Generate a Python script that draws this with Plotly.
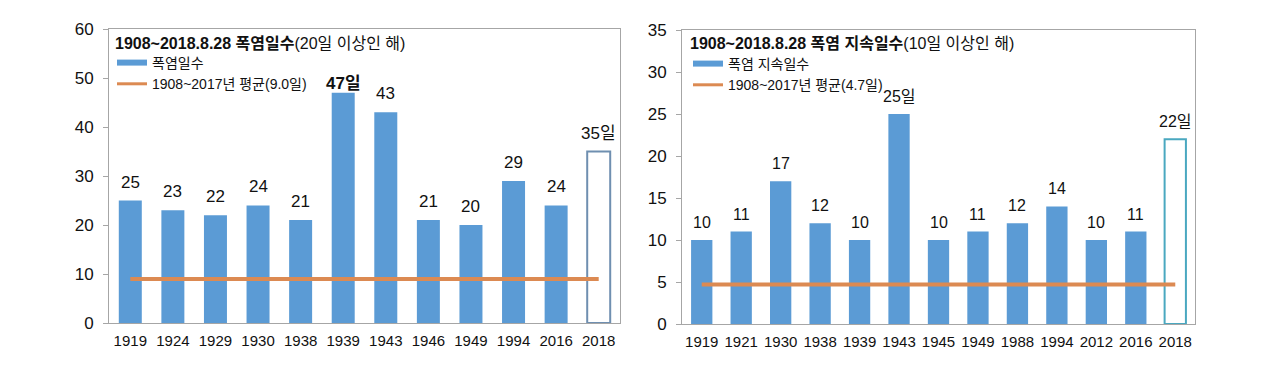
import plotly.graph_objects as go

# ---- data ----
left_years = ['1919', '1924', '1929', '1930', '1938', '1939', '1943', '1946', '1949', '1994', '2016', '2018']
left_days = [25, 23, 22, 24, 21, 47, 43, 21, 20, 29, 24, 35]
left_labels = ['25', '23', '22', '24', '21', '<b>47일</b>', '43', '21', '20', '29', '24', '35일']
left_avg = 9.0

right_years = ['1919', '1921', '1930', '1938', '1939', '1943', '1945', '1949', '1988', '1994', '2012', '2016', '2018']
right_days = [10, 11, 17, 12, 10, 25, 10, 11, 12, 14, 10, 11, 22]
right_labels = ['10', '11', '17', '12', '10', '25일', '10', '11', '12', '14', '10', '11', '22일']
right_avg = 4.7

left_title = '<b>1908~2018.8.28 폭염일수</b>(20일 이상인 해)'
right_title = '<b>1908~2018.8.28 폭염 지속일수</b>(10일 이상인 해)'
left_bar_name = '폭염일수'
right_bar_name = '폭염 지속일수'
left_avg_name = '1908~2017년 평균(9.0일)'
right_avg_name = '1908~2017년 평균(4.7일)'

FONT = 'Liberation Sans, Arial, Noto Sans CJK KR, sans-serif'
BLUE = '#5B9BD5'
ORANGE = '#DC8A52'
GRID = '#A6A6A6'

W, H = 1280, 379
fig = go.Figure()

def add_panel(years, days, labels, avg, bar_name, avg_name, xa, ya, legend, last_line_color,
              label_size, tight_label=None):
    n = len(days)
    colors = [BLUE] * (n - 1) + ['white']
    lcolors = [BLUE] * (n - 1) + [last_line_color]
    lwidths = [0] * (n - 1) + [2]
    fig.add_trace(go.Bar(x=years, y=days, xaxis=xa, yaxis=ya, showlegend=False,
                         marker=dict(color=colors, line=dict(color=lcolors, width=lwidths))))
    fig.add_trace(go.Scatter(x=years, y=[avg] * n, xaxis=xa, yaxis=ya, mode='lines',
                             line=dict(color=ORANGE, width=4), showlegend=False))
    # legend-only entries
    fig.add_trace(go.Scatter(x=[years[0]], y=[None], xaxis=xa, yaxis=ya, mode='lines', name=bar_name,
                             line=dict(color=BLUE, width=6), legend=legend))
    fig.add_trace(go.Scatter(x=[years[0]], y=[None], xaxis=xa, yaxis=ya, mode='lines', name=avg_name,
                             line=dict(color=ORANGE, width=3), legend=legend))
    for i, (y, t) in enumerate(zip(days, labels)):
        fig.add_annotation(x=i, y=y, xref=xa, yref=ya, text=t, showarrow=False,
                           yanchor='bottom', yshift=(-2 if i == tight_label else 7),
                           font=dict(size=label_size, color='#111111', family=FONT))

add_panel(left_years, left_days, left_labels, left_avg, left_bar_name, left_avg_name,
          'x', 'y', 'legend', '#6F8FB0', 17, tight_label=left_days.index(max(left_days)))
add_panel(right_years, right_days, right_labels, right_avg, right_bar_name, right_avg_name,
          'x2', 'y2', 'legend2', '#4AA8C0', 16)

ax_common = dict(showline=True, linecolor=GRID, linewidth=1, mirror=True, showgrid=False,
                 zeroline=False, ticks='', automargin=False, ticklabelstandoff=4,
                 tickfont=dict(size=15, color='#111111', family=FONT))
ay_common = dict(showline=True, linecolor=GRID, linewidth=1, mirror=True, showgrid=False,
                 zeroline=False, ticks='outside', ticklen=5, tickcolor=GRID, automargin=False,
                 ticklabelstandoff=6,
                 tickfont=dict(size=17, color='#111111', family=FONT))

fig.update_layout(
    width=W, height=H,
    margin=dict(l=0, r=0, t=0, b=0, autoexpand=False),
    paper_bgcolor='white', plot_bgcolor='white',
    font=dict(family=FONT, color='#111111'),
    bargap=0.46,
    xaxis=dict(domain=[109 / W, 620 / W], type='category', range=[-0.5, len(left_years) - 0.5], **ax_common),
    yaxis=dict(domain=[1 - 323 / H, 1 - 29 / H], range=[0, 60], dtick=10, **ay_common),
    xaxis2=dict(domain=[682 / W, 1195 / W], type='category', anchor='y2',
                range=[-0.5, len(right_years) - 0.5], **ax_common),
    yaxis2=dict(domain=[1 - 324 / H, 1 - 30 / H], range=[0, 35], dtick=5, anchor='x2', **ay_common),
    legend=dict(x=112 / W, y=1 - 47 / H, xanchor='left', yanchor='top', bgcolor='rgba(0,0,0,0)',
                font=dict(size=14, family=FONT, color='#111111'), tracegroupgap=0,
                itemwidth=30),
    legend2=dict(x=688 / W, y=1 - 48 / H, xanchor='left', yanchor='top', bgcolor='rgba(0,0,0,0)',
                 font=dict(size=14, family=FONT, color='#111111'), tracegroupgap=0,
                 itemwidth=30),
)

fig.add_annotation(x=113 / W, y=1 - 44 / H, xref='paper', yref='paper', xanchor='left', yanchor='middle',
                   text=left_title, showarrow=False, font=dict(size=16, family=FONT, color='#111111'))
fig.add_annotation(x=688 / W, y=1 - 43 / H, xref='paper', yref='paper', xanchor='left', yanchor='middle',
                   text=right_title, showarrow=False, font=dict(size=16, family=FONT, color='#111111'))

fig.write_html('out.html', config={'displayModeBar': False},
               post_script="document.body.style.margin='0';")
